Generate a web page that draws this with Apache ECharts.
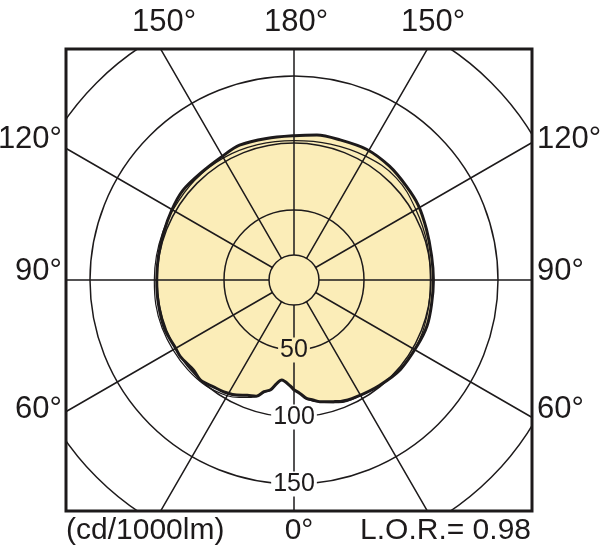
<!DOCTYPE html>
<html><head><meta charset="utf-8">
<script src="https://cdn.jsdelivr.net/npm/echarts@6/dist/echarts.min.js"></script>
<style>html,body{margin:0;padding:0;background:#fff}#c{width:600px;height:552px}</style>
</head><body><div id="c"></div>
<script>
// ---- data (angle: 0 = down, 90 = left, 180 = up, 270 = right; values in cd/1000lm) ----
const thickAngles = [0, 2, 7, 9.5, 12, 15, 18, 22, 26.5, 32, 37, 43, 48, 56, 60, 69, 80, 90, 100, 110, 120, 129, 139, 150, 158, 169, 180, 189, 198, 209, 220, 230, 239, 249, 260, 270, 280, 289, 298, 310, 321, 332, 339, 342, 348, 351, 354, 357, 360];
const thickValues = [79.8, 76.9, 73, 76.1, 81.5, 84, 89, 90.6, 93.7, 96.3, 97.6, 100, 98.5, 100, 99.7, 101, 100.5, 100.2, 100.5, 101.3, 102.9, 104.3, 103.7, 104.5, 106.3, 105.4, 105.4, 107.3, 107.8, 109.3, 108.6, 107, 106, 103.6, 102, 101.8, 102, 102.8, 102, 101.5, 99, 96.6, 94.8, 93.2, 90.6, 88.4, 86.6, 82.5, 79.8];
const thinAngles = [0, 2, 7, 9.5, 12, 16, 20, 25, 30, 40, 50, 60, 70, 80, 90, 100, 110, 120, 135, 150, 165, 180, 195, 210, 225, 240, 255, 270, 285, 300, 315, 330, 340, 348, 354, 357, 360];
const thinValues = [79.8, 76.9, 73, 76.1, 81.5, 86, 91, 94.5, 97.5, 100.5, 101.5, 102, 102.5, 102.5, 102, 102, 102, 102.2, 102.8, 103, 102.3, 101.8, 102.8, 104.5, 105.6, 102.8, 100.8, 99.5, 100.5, 101.5, 100.5, 97.2, 95.2, 91, 87, 82.5, 79.8];
const ringValues = [50, 100, 150, 206];
const innerRingValue = 16.4;
const ringLabels = [50, 100, 150];
const topTickLabels = ['150°', '180°', '150°'];
const sideTickLabels = ['120°', '90°', '60°'];
const bottomTexts = ['(cd/1000lm)', '0°', 'L.O.R.= 0.98'];

// ---- layout / style ----
const CX = 294, CY = 280, PX_PER_UNIT = 1.34, AXIS_MIN = -2.24, OUTER_R = 335;
const AXIS_MAX = AXIS_MIN + OUTER_R / PX_PER_UNIT;
const toPx = v => (v - AXIS_MIN) * PX_PER_UNIT;
const INK = '#1d1a1b', CREAM = '#fbedb8';
const FONT = '"Liberation Sans", Arial, Helvetica, sans-serif';
const BOX = {x: 66, y: 49, w: 466, h: 462};

const chart = echarts.init(document.getElementById('c'), null, {renderer: 'canvas'});

const polar = [{center: [CX, CY], radius: OUTER_R}].concat(
  ringValues.map(v => ({center: [CX, CY], radius: toPx(v)})));
const angleAxis = [{
  polarIndex: 0, type: 'value', min: 0, max: 360, interval: 30, startAngle: -90, clockwise: true, z: 3,
  axisLine: {show: false}, axisTick: {show: false}, axisLabel: {show: false},
  splitLine: {show: true, lineStyle: {color: INK, width: 1.5}}
}].concat(ringValues.map((v, i) => ({
  polarIndex: i + 1, type: 'value', min: 0, max: 360, startAngle: -90, z: 3,
  axisLine: {show: true, lineStyle: {color: INK, width: 1.5}},
  axisTick: {show: false}, axisLabel: {show: false}, splitLine: {show: false}
})));
const radiusAxis = [{polarIndex: 0, type: 'value', min: AXIS_MIN, max: AXIS_MAX, show: false}].concat(
  ringValues.map((v, i) => ({polarIndex: i + 1, type: 'value', min: 0, max: 1, show: false})));

const thickData = thickAngles.map((a, i) => [thickValues[i], a]);
const thinData = thinAngles.map((a, i) => [thinValues[i], a]);

const txt = (text, x, y, align, size) => ({
  type: 'text', z: 60, silent: true,
  style: {text, x, y, fill: INK, font: size + 'px ' + FONT, textAlign: align, textVerticalAlign: 'middle'}
});

const graphic = [
  {type: 'circle', z: 4, shape: {cx: CX, cy: CY, r: toPx(innerRingValue)}, style: {fill: CREAM, stroke: INK, lineWidth: 1.5}},
  {type: 'rect', z: 50, shape: {x: 0, y: 0, width: 600, height: BOX.y}, style: {fill: '#fff'}},
  {type: 'rect', z: 50, shape: {x: 0, y: BOX.y + BOX.h, width: 600, height: 552 - BOX.y - BOX.h}, style: {fill: '#fff'}},
  {type: 'rect', z: 50, shape: {x: 0, y: 0, width: BOX.x, height: 552}, style: {fill: '#fff'}},
  {type: 'rect', z: 50, shape: {x: BOX.x + BOX.w, y: 0, width: 600 - BOX.x - BOX.w, height: 552}, style: {fill: '#fff'}},
  {type: 'rect', z: 51, shape: {x: BOX.x, y: BOX.y, width: BOX.w, height: BOX.h}, style: {fill: 'transparent', stroke: INK, lineWidth: 3}},
  txt(topTickLabels[0], 164, 22, 'center', 31),
  txt(topTickLabels[1], 296, 22, 'center', 31),
  txt(topTickLabels[2], 433, 22, 'center', 31),
  txt(sideTickLabels[0], 62, 139, 'right', 31),
  txt(sideTickLabels[1], 62, 271, 'right', 31),
  txt(sideTickLabels[2], 62, 409, 'right', 31),
  txt(sideTickLabels[0], 537, 139, 'left', 31),
  txt(sideTickLabels[1], 537, 271, 'left', 31),
  txt(sideTickLabels[2], 537, 409, 'left', 31),
  txt(bottomTexts[0], 66, 531, 'left', 30),
  txt(bottomTexts[1], 299, 531, 'center', 30),
  txt(bottomTexts[2], 531, 531, 'right', 30)
];

chart.setOption({
  animation: false,
  backgroundColor: '#fff',
  polar, angleAxis, radiusAxis,
  series: [
    {type: 'line', coordinateSystem: 'polar', polarIndex: 0, data: thickData, symbol: 'none', smooth: 0.3, z: 1,
     lineStyle: {width: 0, opacity: 0}, areaStyle: {color: CREAM, opacity: 1, origin: 'start'}},
    {type: 'line', coordinateSystem: 'polar', polarIndex: 0, data: thinData, symbol: 'none', smooth: 0.4, z: 4,
     lineStyle: {color: INK, width: 1.2}},
    {type: 'line', coordinateSystem: 'polar', polarIndex: 0, data: thickData, symbol: 'none', smooth: 0.3, z: 5,
     lineStyle: {color: INK, width: 3}},
    {type: 'scatter', coordinateSystem: 'polar', polarIndex: 0, z: 6, symbolSize: 1, itemStyle: {color: INK, opacity: 0},
     data: ringLabels.map(v => ({value: [v, 0], label: {backgroundColor: v < thickValues[0] ? CREAM : '#fff'}})),
     label: {show: true, position: 'inside', opacity: 1, formatter: p => String(p.value[0]), color: INK,
             textBorderWidth: 0, fontSize: 25, fontFamily: FONT, padding: [0, 2]}}
  ],
  graphic
});
</script></body></html>
